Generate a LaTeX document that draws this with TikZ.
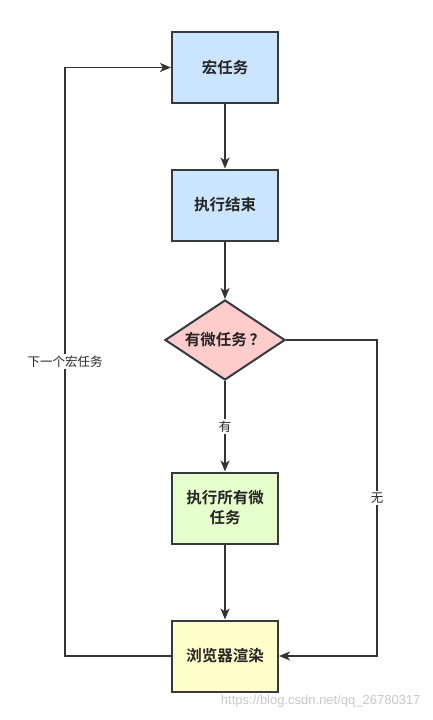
\documentclass[tikz,border=0pt]{standalone}
\usepackage{fontspec}
\newfontfamily\cjk{Noto Sans CJK SC}
\newfontfamily\cjkb{Noto Sans CJK SC Bold}
\setmainfont{Liberation Sans}
\usetikzlibrary{arrows.meta,shapes.geometric}
\definecolor{strokec}{HTML}{36393D}
\definecolor{bluef}{HTML}{CCE5FF}
\definecolor{redf}{HTML}{FFCCCC}
\definecolor{greenf}{HTML}{E6FFCC}
\definecolor{yellowf}{HTML}{FFFFCC}
\begin{document}
\begin{tikzpicture}[x=1pt,y=-1pt,
  box/.style={draw=strokec,line width=2pt,minimum width=106pt,minimum height=71pt,inner sep=0pt,align=center,font=\cjkb\fontsize{15.5}{20}\selectfont,text=black!85},
  dia/.style={draw=strokec,line width=2pt,diamond,minimum width=120pt,minimum height=80pt,inner sep=0pt,aspect=1.5,fill=redf,font=\cjkb\fontsize{15.5}{20}\selectfont,text=black!85},
  conn/.style={draw=black!80,line width=1.8pt,-{Stealth[length=11pt,width=9pt,inset=3pt]}},
  lbl/.style={fill=white,inner sep=1.5pt,font=\cjk\fontsize{12.5}{15}\selectfont,text=black!85}]
\useasboundingbox (0,0) rectangle (432,720);
\node[box,fill=bluef] (a) at (225,67.5) {宏任务};
\node[box,fill=bluef] (b) at (225,205) {执行结束};
\node[dia] (c) at (225,340) {有微任务\hspace{3pt}？};
\node[box,fill=greenf] (d) at (225,508) {执行所有微\\任务};
\node[box,fill=yellowf] (e) at (225,656) {浏览器渲染};
\coordinate (lt) at (65,67.5);
\coordinate (lb) at (65,656);
\coordinate (rt) at (377,340);
\coordinate (rb) at (377,656);
\draw[conn] (a) -- (b);
\draw[conn] (b) -- (c);
\draw[conn] (c) -- node[lbl] (ly) {有} (d);
\draw[conn] (d) -- (e);
\draw[conn] (c.east) -- (rt) -- node[lbl,pos=0.5] (ln) {无} (rb) -- (e.east);
\draw[conn] (e.west) -- (lb) -- node[lbl,pos=0.5] (lm) {下一个宏任务} (lt) -- (a.west);
\node[font=\fontsize{13}{15}\selectfont,text=black!22,anchor=east] (wm) at (424,701) {https://blog.csdn.net/qq\_26780317};
\end{tikzpicture}
\end{document}
